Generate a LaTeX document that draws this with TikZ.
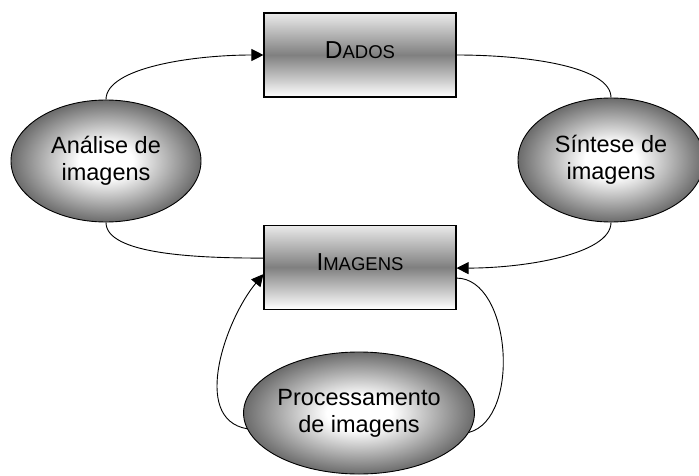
\documentclass[tikz,border=0pt]{standalone}
\usepackage{fontspec}
\setmainfont{Liberation Sans}
\usetikzlibrary{arrows.meta, positioning, shapes.geometric}

\pgfdeclareverticalshading{boxshade}{100bp}{color(0bp)=(white); color(25bp)=(white);
  color(50bp)=(black!50); color(75bp)=(black!8); color(100bp)=(black!8)}
\pgfdeclareradialshading{ovalshade}{\pgfpoint{0bp}{0bp}}{color(0bp)=(white);
  color(7bp)=(white); color(25bp)=(black!58); color(50bp)=(black!58)}
\newcommand{\fakesc}[2]{{\fontsize{24.5}{28}\selectfont #1}{\fontsize{18.5}{28}\selectfont #2}}

\begin{document}
\begin{tikzpicture}[x=1pt, y=1pt, node distance=127pt,
  block/.style={draw, line width=1.1pt, shade, shading=boxshade, minimum width=192pt,
                minimum height=84pt, inner sep=0pt, text depth=10pt},
  oval/.style={ellipse, draw, line width=0.9pt, shade, shading=ovalshade, minimum width=190pt,
               minimum height=122pt, inner sep=0pt, align=center,
               font=\fontsize{23.5}{27}\selectfont},
  arrow/.style={-{Triangle[length=12pt, width=12pt]}, line width=0.9pt},
  link/.style={line width=0.9pt}]

  \useasboundingbox (0,0) rectangle (699,475);

  \node[block] (dados) at (360,420) {\fakesc{D}{ADOS}};
  \node[block, below=of dados] (imagens) {\fakesc{I}{MAGENS}};
  \node[oval] (analise) at (106,314) {Análise de\\imagens};
  \node[oval, minimum width=186pt, minimum height=124pt] (sintese) at (611,315) {Síntese de\\imagens};
  \node[oval, minimum width=192pt] (proc) at (359,62) {Processamento\\de imagens};

  \draw[arrow] (analise.north) to[out=90, in=180, out looseness=0.5, in looseness=1.1] (dados.west);
  \draw[link] (dados.east) to[out=0, in=90, out looseness=1.1, in looseness=0.5] (sintese.north);
  \draw[link] (analise.south) to[out=-90, in=180, out looseness=0.5, in looseness=1.1] ([yshift=9pt]imagens.west);
  \draw[arrow] (sintese.south) to[out=-90, in=0, out looseness=0.5, in looseness=1.1] ([yshift=-1pt]imagens.east);
  \draw[arrow] (proc.188) to[out=170, in=230, looseness=0.95] ([yshift=-7pt]imagens.west);
  \draw[link] ([yshift=-11pt]imagens.east) to[out=0, in=15, looseness=0.9] (proc.-10);
\end{tikzpicture}
\end{document}
